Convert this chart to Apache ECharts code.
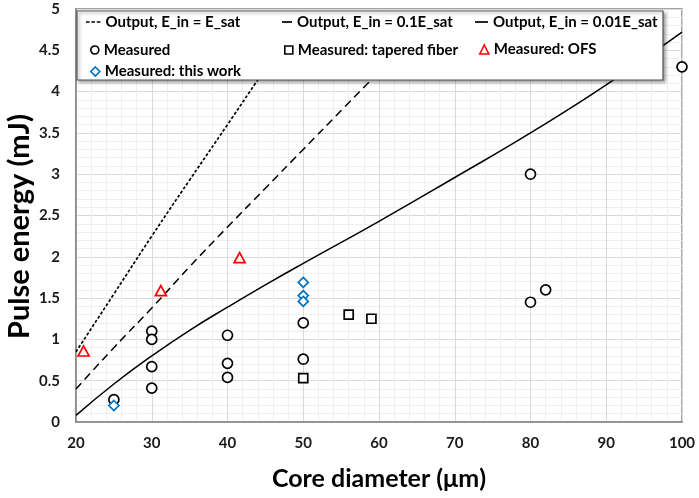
<!DOCTYPE html>
<html>
<head>
<meta charset="utf-8">
<script src="https://cdn.jsdelivr.net/npm/echarts@6/dist/echarts.min.js"></script>
<style>
  html, body { margin: 0; padding: 0; background: #fff; }
  #chart { width: 699px; height: 498px; }
</style>
</head>
<body>
<div id="chart"></div>
<script>
const FONT = 'Lato';

// model curves
const satX = [20, 25, 30, 35, 40, 45];
const satY = [0.85, 1.55, 2.25, 2.93, 3.60, 4.28];
const tenthX = [20, 25, 30, 35, 40, 45, 50, 55, 60];
const tenthY = [0.40, 0.90, 1.38, 1.88, 2.36, 2.83, 3.30, 3.77, 4.24];
const hundredthX = [20, 25, 30, 35, 40, 45, 50, 60, 70, 80, 90, 100];
const hundredthY = [0.08, 0.46, 0.80, 1.11, 1.39, 1.66, 1.92, 2.43, 2.96, 3.50, 4.08, 4.72];

// measured points
const measuredX = [25, 30, 30, 30, 30, 40, 40, 40, 50, 50, 80, 80, 82, 100];
const measuredY = [0.27, 1.10, 1.00, 0.67, 0.41, 1.05, 0.71, 0.54, 1.20, 0.76, 3.00, 1.45, 1.60, 4.30];
const taperedX = [50, 56, 59];
const taperedY = [0.53, 1.30, 1.25];
const ofsX = [21, 31.2, 41.6];
const ofsY = [0.86, 1.59, 1.99];
const thisWorkX = [25, 50, 50, 50];
const thisWorkY = [0.20, 1.69, 1.53, 1.46];

const NAMES = [
  'Output, E_in = E_sat',
  'Output, E_in = 0.1E_sat',
  'Output, E_in = 0.01E_sat',
  'Measured',
  'Measured: tapered fiber',
  'Measured: OFS',
  'Measured: this work'
];

const zip = (xs, ys) => xs.map((x, i) => [x, ys[i]]);

const chart = echarts.init(document.getElementById('chart'));

const textStyle = { fontFamily: FONT, fontWeight: 'bold', fontSize: 15, color: '#000', lineHeight: 16 };

// legend line samples, drawn as little filled bars
const ICON_DOTTED = 'path://M0,0h3.6v1.7h-3.6zM5.4,0h3.6v1.7h-3.6zM10.8,0h3.6v1.7h-3.6z';
const ICON_DASH = 'path://M0,0h10v1.7h-10z';
const ICON_SOLID = 'path://M0,0h13v1.7h-13z';

function legendItem(name, left, top, w, h, icon) {
  const item = { name: name };
  if (icon) {
    item.icon = icon;
    item.itemStyle = { color: '#000', borderWidth: 0 };
  }
  return {
    data: [item],
    left: left,
    top: top,
    itemWidth: w,
    itemHeight: h,
    padding: 0,
    selectedMode: false,
    z: 5,
    itemStyle: { borderWidth: 1.6 },
    textStyle: textStyle
  };
}

function lineSeries(name, xs, ys, type, width) {
  return {
    name: name,
    type: 'line',
    data: zip(xs, ys),
    smooth: 0.5,
    symbol: 'none',
    itemStyle: { color: '#000' },
    lineStyle: { color: '#000', width: width, type: type },
    z: 2
  };
}

function pointSeries(name, xs, ys, symbol, size, color) {
  return {
    name: name,
    type: 'scatter',
    data: zip(xs, ys),
    symbol: symbol,
    symbolSize: size,
    clip: false,
    itemStyle: { color: '#fff', borderColor: color, borderWidth: 1.7, opacity: 1 },
    z: 2
  };
}

const option = {
  animation: false,
  backgroundColor: '#fff',
  grid: {
    left: 76, right: 17, top: 9, bottom: 76,
    outerBoundsMode: 'none',
    containLabel: false,
    show: true,
    borderColor: '#868686',
    borderWidth: 1.5,
    backgroundColor: '#fff'
  },
  legend: [
    legendItem(NAMES[0], 86, 14, 14.4, 16, ICON_DOTTED),
    legendItem(NAMES[1], 282, 14, 10, 16, ICON_DASH),
    legendItem(NAMES[2], 475, 14, 13, 16, ICON_SOLID),
    legendItem(NAMES[3], 90, 42, 8, 8),
    legendItem(NAMES[4], 284, 42, 8, 8),
    legendItem(NAMES[5], 479, 41.5, 9, 9),
    legendItem(NAMES[6], 90, 63.5, 9, 9)
  ],
  graphic: {
    elements: [{
      type: 'rect',
      z: 3,
      shape: { x: 77, y: 11, width: 586, height: 69 },
      style: {
        fill: '#fff',
        stroke: '#555',
        lineWidth: 1.2,
        shadowBlur: 3,
        shadowOffsetX: 2,
        shadowOffsetY: 2,
        shadowColor: 'rgba(0,0,0,0.35)'
      }
    }]
  },
  xAxis: {
    type: 'value',
    min: 20,
    max: 100,
    interval: 10,
    name: 'Core diameter (μm)',
    nameLocation: 'middle',
    nameGap: 44,
    nameTextStyle: { fontFamily: FONT, fontWeight: 'bold', fontSize: 25, color: '#000' },
    axisLine: { show: true, lineStyle: { color: '#868686', width: 1.5 } },
    axisTick: { show: false },
    axisLabel: { margin: 14, fontFamily: FONT, fontWeight: 'bold', fontSize: 15, color: '#1a1a1a' },
    splitLine: { show: true, lineStyle: { color: '#d9d9d9', width: 1 } },
    minorTick: { show: false, splitNumber: 5 },
    minorSplitLine: { show: true, lineStyle: { color: '#efefef', width: 1 } }
  },
  yAxis: {
    type: 'value',
    min: 0,
    max: 5,
    interval: 0.5,
    name: 'Pulse energy (mJ)',
    nameLocation: 'middle',
    nameGap: 42,
    nameMoveOverlap: false,
    nameTextStyle: {
      fontFamily: FONT, fontWeight: 'bold', fontSize: 29, color: '#000',
      padding: [0, 22, 0, 0]
    },
    axisLine: { show: true, lineStyle: { color: '#868686', width: 1.5 } },
    axisTick: { show: false },
    axisLabel: { margin: 16, fontFamily: FONT, fontWeight: 'bold', fontSize: 15, color: '#1a1a1a' },
    splitLine: { show: true, lineStyle: { color: '#d9d9d9', width: 1 } },
    minorTick: { show: false, splitNumber: 5 },
    minorSplitLine: { show: true, lineStyle: { color: '#efefef', width: 1 } }
  },
  series: [
    lineSeries(NAMES[0], satX, satY, [3, 2], 1.7),
    lineSeries(NAMES[1], tenthX, tenthY, [8, 5], 1.5),
    lineSeries(NAMES[2], hundredthX, hundredthY, 'solid', 1.5),
    pointSeries(NAMES[3], measuredX, measuredY, 'circle', 10, '#000'),
    pointSeries(NAMES[4], taperedX, taperedY, 'rect', 9, '#000'),
    pointSeries(NAMES[5], ofsX, ofsY, 'triangle', [11, 10], '#ff0000'),
    pointSeries(NAMES[6], thisWorkX, thisWorkY, 'diamond', [10, 10], '#0070c0')
  ]
};

chart.setOption(option);
</script>
</body>
</html>
